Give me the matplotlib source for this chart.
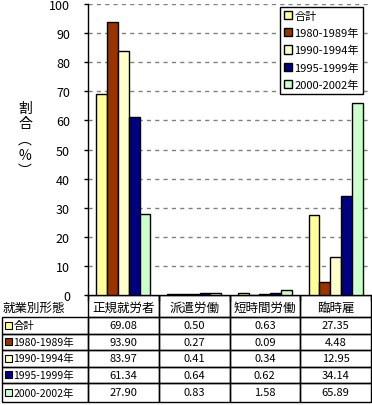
import numpy as np
import matplotlib
matplotlib.use('Agg')
import matplotlib.pyplot as plt
from matplotlib.patches import Patch, Rectangle

plt.rcParams['font.family'] = ['Noto Sans CJK JP', 'DejaVu Sans']

# datos
categorias = ['正規就労者', '派遣労働', '短時間労働', '臨時雇']
series = ['合計', '1980-1989年', '1990-1994年', '1995-1999年', '2000-2002年']
colores = ['#FFFF99', '#993300', '#FFFFCC', '#000080', '#CCFFCC']
total = [69.08, 0.50, 0.63, 27.35]
s1980 = [93.90, 0.27, 0.09, 4.48]
s1990 = [83.97, 0.41, 0.34, 12.95]
s1995 = [61.34, 0.64, 0.62, 34.14]
s2000 = [27.90, 0.83, 1.58, 65.89]
valores = [total, s1980, s1990, s1995, s2000]
yticks = list(range(0, 101, 10))

W, H = 372, 406
fig = plt.figure(figsize=(W / 100, H / 100), dpi=100)

# eje principal en pixeles de la figura
x0, x1, y_top, y_bot = 88, 371, 5, 296
ax = fig.add_axes([x0 / W, 1 - y_bot / H, (x1 - x0) / W, (y_bot - y_top) / H])

x = np.arange(len(categorias))
bw = 0.152
for j, (nombre, vals) in enumerate(zip(series, valores)):
    ax.bar(x + (j - 2) * bw, vals, bw, color=colores[j], edgecolor='black',
           linewidth=1, label=nombre, zorder=3)

ax.set_xlim(-0.5, len(categorias) - 0.5)
ax.set_ylim(0, 100)
ax.set_yticks(yticks)
ax.tick_params(axis='y', length=3, width=1, pad=10, labelsize=9)
ax.set_xticks([])
ax.set_xticks(np.arange(-0.5, len(categorias)), minor=True)
ax.tick_params(axis='x', which='minor', length=4, width=1, labelbottom=False)
for yv in yticks[1:]:
    ax.axhline(yv, color='#808080', linestyle=(0, (3, 3)), linewidth=1, zorder=1)
for s in ['top', 'right']:
    ax.spines[s].set_visible(False)
ax.spines['left'].set_linewidth(1)
ax.spines['bottom'].set_linewidth(1)

handles = [Patch(facecolor=c, edgecolor='black', linewidth=1) for c in colores]
leg = ax.legend(handles, series, loc='upper right',
                bbox_to_anchor=((363 - x0) / (x1 - x0), (y_bot - 8) / (y_bot - y_top)),
                fontsize=8, handlelength=0.75, handleheight=0.75, handletextpad=0.2,
                labelspacing=0.62, borderpad=0.35, borderaxespad=0, fancybox=False,
                framealpha=1)
leg.get_frame().set_edgecolor('black')
leg.get_frame().set_linewidth(1)

# etiqueta vertical
fig.text(25 / W, 1 - 140 / H, '割\n合\n︵\n%\n︶', ha='center', va='center',
         fontsize=10, linespacing=1.15)

# tabla de datos
tab = fig.add_axes([0, 0, 1, 1], zorder=-1)
tab.set_xlim(0, W)
tab.set_ylim(H, 0)
tab.axis('off')

col_x = [x0 + i * (x1 - x0) / len(categorias) for i in range(len(categorias) + 1)]
row_y = [296, 318, 334.5, 351, 367.5, 384, 403]
tab.text(3, (row_y[0] + row_y[1]) / 2 + 1, '就業別形態', ha='left', va='center', fontsize=9)
for i, cat in enumerate(categorias):
    tab.add_patch(Rectangle((col_x[i], row_y[0]), col_x[i + 1] - col_x[i],
                            row_y[1] - row_y[0], fill=False, lw=1, ec='black'))
    tab.text((col_x[i] + col_x[i + 1]) / 2, (row_y[0] + row_y[1]) / 2 + 1, cat,
             ha='center', va='center', fontsize=9)
for r, (nombre, vals) in enumerate(zip(series, valores)):
    ya, yb = row_y[r + 1], row_y[r + 2]
    ym = (ya + yb) / 2
    tab.add_patch(Rectangle((2, ya), x0 - 2, yb - ya, fill=False, lw=1, ec='black'))
    tab.add_patch(Rectangle((4.5, ym - 3.5), 7, 7, fc=colores[r], ec='black', lw=0.8))
    tab.text(13.5, ym, nombre, ha='left', va='center', fontsize=7.5)
    for i, v in enumerate(vals):
        tab.add_patch(Rectangle((col_x[i], ya), col_x[i + 1] - col_x[i], yb - ya,
                                fill=False, lw=1, ec='black'))
        tab.text((col_x[i] + col_x[i + 1]) / 2, ym, '%.2f' % v, ha='center',
                 va='center', fontsize=8)

fig.savefig('out.png', dpi=100)
